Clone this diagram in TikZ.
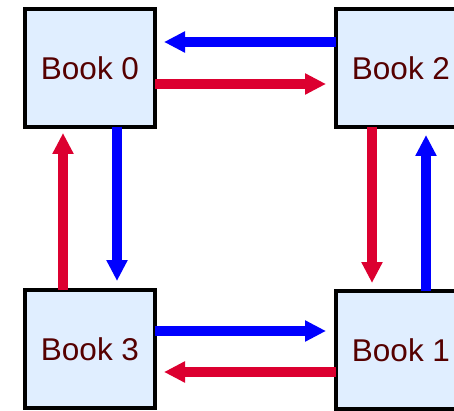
\documentclass[tikz,border=0pt]{standalone}
\usepackage{fontspec}
\setmainfont{Liberation Sans}
\usetikzlibrary{arrows.meta}
\definecolor{bookfill}{RGB}{224,238,255}
\definecolor{booktext}{RGB}{85,0,0}
\definecolor{redarrow}{RGB}{220,0,48}
\begin{document}
\begin{tikzpicture}[x=1pt,y=-1pt,>={Triangle[length=21pt,width=20pt]},
  book/.style={draw,line width=4pt,fill=bookfill,text=booktext,outer sep=0pt,
    minimum width=130pt,minimum height=118pt,font=\fontsize{31.5}{36}\selectfont},
  redarr/.style={->,redarrow,line width=10pt},
  bluearr/.style={->,blue,line width=10pt}]
 \useasboundingbox (0,0) rectangle (454,411);
 \node[book] (b0) at (90,68) {Book 0};
 \node[book] (b2) at (401,68) {Book 2};
 \node[book] (b3) at (90,349) {Book 3};
 \node[book] (b1) at (401,350) {Book 1};
 % top pair
 \draw[bluearr, shorten >=9pt] ([yshift=26pt]b2.west) -- ([yshift=26pt]b0.east);
 \draw[redarr, shorten >=10pt] ([yshift=-16pt]b0.east) -- ([yshift=-16pt]b2.west);
 % left pair
 \draw[redarr, shorten >=6pt] ([xshift=-27pt]b3.north) -- ([xshift=-27pt]b0.south);
 \draw[bluearr, shorten >=9pt] ([xshift=27pt]b0.south) -- ([xshift=27pt]b3.north);
 % right pair
 \draw[redarr, shorten >=8pt] ([xshift=-29pt]b2.south) -- ([xshift=-29pt]b1.north);
 \draw[bluearr, shorten >=8pt] ([xshift=25pt]b1.north) -- ([xshift=25pt]b2.south);
 % bottom pair
 \draw[bluearr, shorten >=10pt] ([yshift=18pt]b3.east) -- ([yshift=19pt]b1.west);
 \draw[redarr, shorten >=9pt] ([yshift=-22pt]b1.west) -- ([yshift=-23pt]b3.east);
\end{tikzpicture}
\end{document}
